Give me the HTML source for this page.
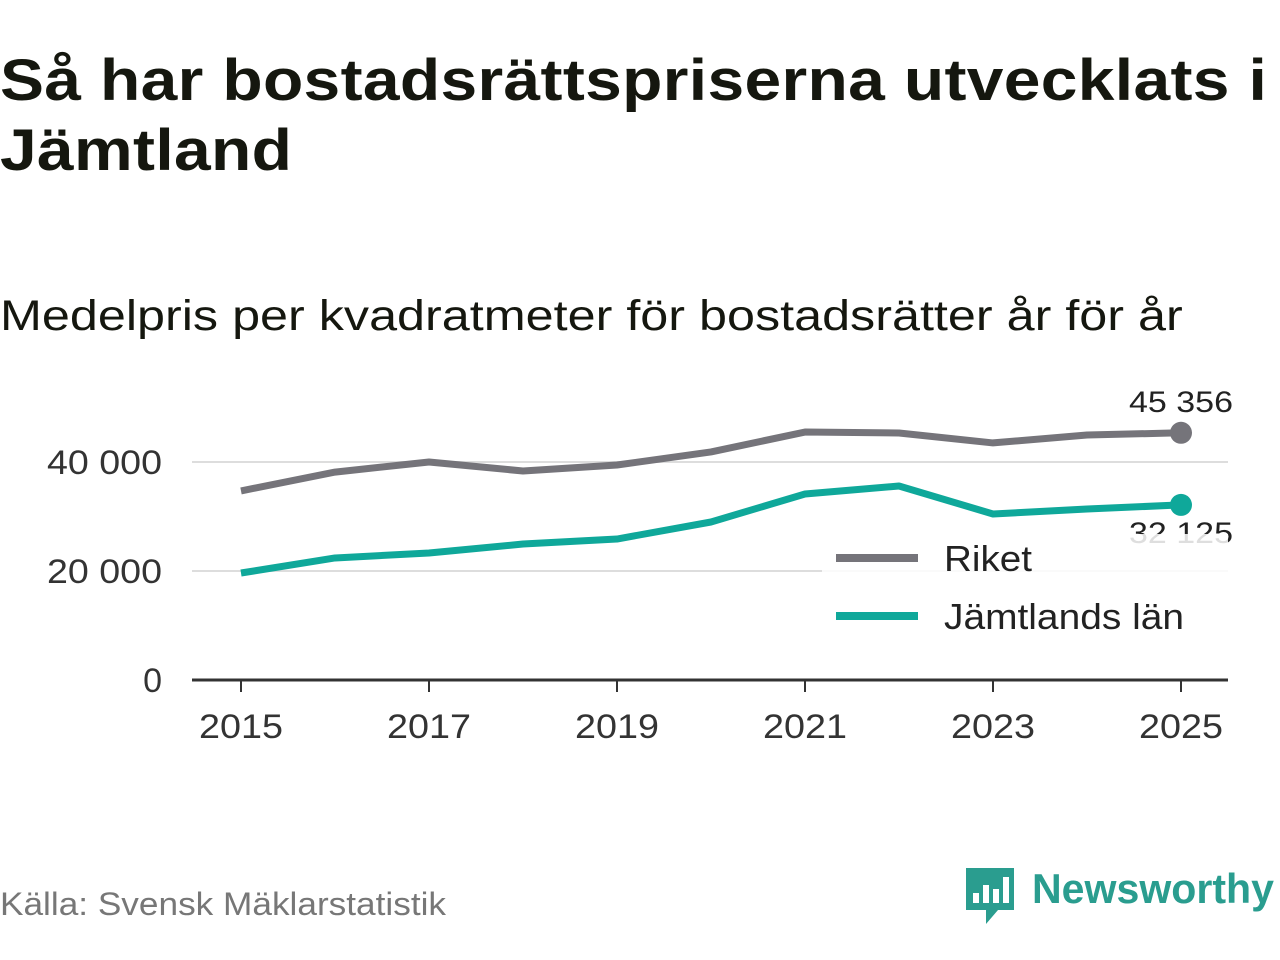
<!DOCTYPE html>
<html><head><meta charset="utf-8"><style>
body{margin:0;width:1280px;height:960px;background:#fff;font-family:"Liberation Sans","DejaVu Sans",sans-serif;overflow:hidden;position:relative}
#title{position:absolute;left:0;top:46px;font-size:58px;font-weight:bold;line-height:70px;color:#15170f;margin:0;letter-spacing:0.3px;transform:scaleX(1.137);transform-origin:0 0;white-space:nowrap}
#sub{position:absolute;left:0;top:292px;font-size:43px;color:#15170f;transform:scaleX(1.17);transform-origin:0 0;white-space:nowrap}
#src{position:absolute;left:0;top:886px;font-size:32px;color:#777;transform:scaleX(1.1);transform-origin:0 0;white-space:nowrap}
svg{position:absolute;left:0;top:0}
</style></head><body>
<h1 id="title">Så har bostadsrättspriserna utvecklats i<br>Jämtland</h1>
<div id="sub">Medelpris per kvadratmeter för bostadsrätter år för år</div>
<div id="src">Källa: Svensk Mäklarstatistik</div>
<svg id="chart" width="1280" height="960"></svg>
<script>
const years=[2015,2016,2017,2018,2019,2020,2021,2022,2023,2024,2025];
const riket=[34700,38150,40000,38350,39450,41850,45500,45320,43500,44950,45356];
const jamt=[19630,22390,23300,24950,25870,28990,34130,35600,30460,31380,32125];
const yTicks=[0,20000,40000];
const xTicks=[2015,2017,2019,2021,2023,2025];
const NS="http://www.w3.org/2000/svg";
const svg=document.getElementById('chart');
const x=v=>241+(v-2015)*94;
const y=v=>680-v/20000*109;
const fmt=v=>v.toLocaleString('en').replace(/,/g,' ');
function mk(t,a,txt){const e=document.createElementNS(NS,t);for(const k in a)e.setAttribute(k,a[k]);if(txt!==undefined)e.textContent=txt;svg.appendChild(e);return e;}
yTicks.forEach(v=>{
 if(v>0){const g=mk('line',{x1:192,x2:1228,y1:y(v),y2:y(v),stroke:'#ddd','stroke-width':2});
 
 }
 const s=fmt(v);
 const a={x:162,y:y(v)+12,'text-anchor':'end','font-size':34,fill:'#333'};
 if(s.length>1){a.textLength=115;a.lengthAdjust='spacingAndGlyphs';}
 const t=mk('text',a,s);
 
 
});
const ax=mk('line',{x1:192,x2:1228,y1:680,y2:680,stroke:'#333','stroke-width':3});


xTicks.forEach(v=>{
 mk('line',{x1:x(v),x2:x(v),y1:680,y2:692,stroke:'#333','stroke-width':2});
 const t=mk('text',{x:x(v),y:738,'text-anchor':'middle','font-size':34,fill:'#333',textLength:84,lengthAdjust:'spacingAndGlyphs'},v);
 
 
});
function series(d,col,name){
 const p=mk('polyline',{points:d.map((v,i)=>x(years[i])+','+y(v)).join(' '),fill:'none',stroke:col,'stroke-width':7,'stroke-linejoin':'round'});
 
 
 const c=mk('circle',{cx:x(years[years.length-1]),cy:y(d[d.length-1]),r:11,fill:col});
 
 
}
series(riket,'#75747a','riket');
series(jamt,'#0fa89a','jamtland');
const l1=mk('text',{x:1233,y:y(riket[10])-21,'text-anchor':'end','font-size':30,fill:'#222',textLength:104,lengthAdjust:'spacingAndGlyphs'},fmt(riket[10]));


const l2=mk('text',{x:1233,y:y(jamt[10])+38,'text-anchor':'end','font-size':30,fill:'#222',textLength:104,lengthAdjust:'spacingAndGlyphs'},fmt(jamt[10]));


const bg=mk('rect',{x:822,y:534,width:406,height:116,fill:'#fff','fill-opacity':0.85});


[['Riket','#75747a',558,88],['Jämtlands län','#0fa89a',616,240]].forEach(([n,c,yy,w])=>{
 mk('line',{x1:836,x2:918,y1:yy,y2:yy,stroke:c,'stroke-width':8});
 const t=mk('text',{x:944,y:yy+13,'font-size':36,fill:'#222',textLength:w,lengthAdjust:'spacingAndGlyphs'},n);
 
 
});
const lg=mk('g',{});


lg.innerHTML='<path d="M966 868 h48 v42 h-16 l-12 14 v-14 h-20 z" fill="#2a9d8f"/><rect x="973" y="893" width="6" height="10" fill="#fff"/><rect x="983" y="885" width="6" height="18" fill="#fff"/><rect x="993" y="889" width="6" height="14" fill="#fff"/><rect x="1003" y="877" width="6" height="26" fill="#fff"/><text x="1032" y="903" font-size="42" font-weight="bold" fill="#2a9d8f" textLength="242" lengthAdjust="spacingAndGlyphs">Newsworthy</text>';
svg.appendChild(lg);
</script>
</body></html>
